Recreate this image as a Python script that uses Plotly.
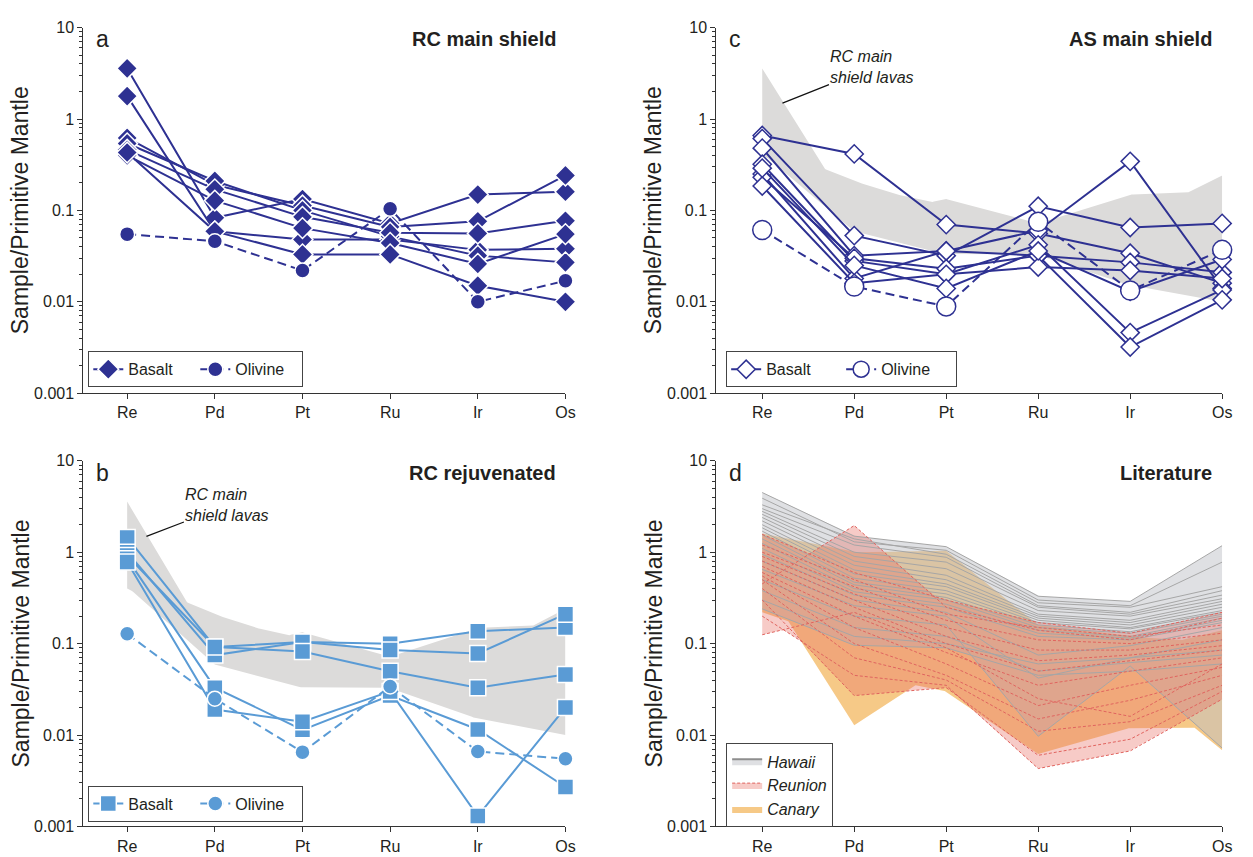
import numpy as np
import plotly.graph_objects as go

# ---------------------------------------------------------------- data
elements = ["Re", "Pd", "Pt", "Ru", "Ir", "Os"]

# Sample / primitive-mantle ratios, one row per sample (Re, Pd, Pt, Ru, Ir, Os)
rc_main_basalt = [
    [3.58, 0.083, 0.133, 0.072, 0.149, 0.160],
    [1.78, 0.059, 0.048, 0.048, 0.037, 0.038],
    [0.62, 0.190, 0.113, 0.066, 0.076, 0.241],
    [0.54, 0.210, 0.100, 0.052, 0.032, 0.027],
    [0.46, 0.170, 0.085, 0.057, 0.056, 0.077],
    [0.40, 0.128, 0.064, 0.044, 0.026, 0.055],
    [0.43, 0.059, 0.033, 0.033, 0.015, 0.010],
]
rc_main_olivine = [0.055, 0.046, 0.022, 0.104, 0.010, 0.017]

rc_rejuv_basalt = [
    [1.45, 0.092, 0.104, 0.100, 0.137, 0.150],
    [1.00, 0.075, 0.104, 0.085, 0.078, 0.210],
    [0.92, 0.092, 0.082, 0.050, 0.033, 0.046],
    [0.85, 0.033, 0.0114, 0.027, 0.0115, 0.0027],
    [0.78, 0.019, 0.014, 0.030, 0.0013, 0.020],
]
rc_rejuv_olivine = [0.128, 0.025, 0.0065, 0.034, 0.0066, 0.0055]

as_main_basalt = [
    [0.66, 0.415, 0.070, 0.056, 0.034, 0.016],
    [0.61, 0.053, 0.032, 0.111, 0.065, 0.072],
    [0.48, 0.032, 0.036, 0.060, 0.344, 0.014],
    [0.32, 0.028, 0.020, 0.042, 0.0046, 0.0135],
    [0.25, 0.018, 0.036, 0.032, 0.0032, 0.0105],
    [0.23, 0.030, 0.023, 0.032, 0.027, 0.021],
    [0.185, 0.016, 0.020, 0.024, 0.022, 0.018],
    [0.29, 0.025, 0.014, 0.036, 0.013, 0.029],
]
as_main_olivine = [0.061, 0.0147, 0.0089, 0.075, 0.0133, 0.037]

hawaii = [
    [4.50, 1.50, 1.15, 0.33, 0.29, 1.18],
    [3.90, 1.30, 1.05, 0.30, 0.26, 0.78],
    [3.30, 1.40, 0.95, 0.28, 0.25, 0.42],
    [3.00, 1.20, 0.88, 0.26, 0.22, 0.38],
    [2.80, 1.00, 0.78, 0.25, 0.21, 0.34],
    [2.60, 0.90, 0.66, 0.23, 0.20, 0.31],
    [2.40, 0.80, 0.56, 0.21, 0.18, 0.29],
    [2.20, 0.72, 0.50, 0.20, 0.17, 0.27],
    [2.00, 0.64, 0.45, 0.19, 0.16, 0.25],
    [1.85, 0.58, 0.42, 0.18, 0.15, 0.23],
    [1.70, 0.52, 0.38, 0.17, 0.145, 0.22],
    [1.55, 0.47, 0.35, 0.16, 0.135, 0.21],
    [1.40, 0.44, 0.32, 0.15, 0.13, 0.20],
    [1.25, 0.40, 0.30, 0.14, 0.12, 0.19],
    [1.10, 0.37, 0.27, 0.13, 0.115, 0.18],
    [0.95, 0.34, 0.25, 0.12, 0.11, 0.17],
    [0.80, 0.30, 0.22, 0.075, 0.095, 0.15],
    [0.65, 0.26, 0.20, 0.042, 0.070, 0.11],
    [0.50, 0.20, 0.16, 0.0097, 0.057, 0.0072],
    [0.38, 0.15, 0.12, 0.050, 0.062, 0.075],
    [0.30, 0.12, 0.10, 0.060, 0.070, 0.085],
    [0.24, 0.096, 0.09, 0.045, 0.050, 0.060],
]

reunion = [
    [1.57, 0.60, 0.30, 0.17, 0.13, 0.22],
    [0.45, 1.96, 0.25, 0.14, 0.11, 0.19],
    [1.20, 0.50, 0.21, 0.15, 0.12, 0.16],
    [1.00, 0.42, 0.18, 0.11, 0.10, 0.13],
    [0.90, 0.35, 0.15, 0.085, 0.085, 0.11],
    [0.80, 0.30, 0.12, 0.065, 0.075, 0.095],
    [0.70, 0.25, 0.10, 0.050, 0.065, 0.085],
    [0.60, 0.20, 0.08, 0.035, 0.050, 0.070],
    [0.55, 0.15, 0.06, 0.021, 0.035, 0.055],
    [0.50, 0.10, 0.045, 0.015, 0.024, 0.045],
    [0.40, 0.07, 0.040, 0.011, 0.014, 0.035],
    [0.30, 0.027, 0.033, 0.006, 0.009, 0.030],
    [0.20, 0.045, 0.035, 0.0043, 0.0067, 0.0247],
    [0.125, 0.22, 0.090, 0.025, 0.016, 0.060],
]

canary = [
    [1.60, 1.00, 1.04, 0.16, 0.12, 0.10],
    [1.20, 0.60, 0.50, 0.10, 0.08, 0.14],
    [0.80, 0.30, 0.20, 0.05, 0.045, 0.0068],
    [0.50, 0.0128, 0.058, 0.02, 0.02, 0.02],
    [0.30, 0.05, 0.03, 0.0062, 0.012, 0.012],
    [0.22, 0.10, 0.07, 0.03, 0.012, 0.03],
]

decade_ticks = [0.001, 0.01, 0.1, 1, 10]
decade_labels = ["0.001", "0.01", "0.1", "1", "10"]

# ---------------------------------------------------------------- style
NAVY = "#2E3192"
SKY = "#5A9BD5"
BAND = "#DCDBDA"
INK = "#231F20"
AXIS = "#333333"
FONT = "Liberation Sans, Arial, Helvetica, sans-serif"
W, H = 1253, 857

HAWAII_FILL = "rgba(188,191,196,0.48)"
HAWAII_LINE = "#A6A6A6"
REUNION_FILL = "rgba(232,112,100,0.36)"
REUNION_LINE = "#E0645F"
CANARY_FILL = "rgba(235,140,0,0.47)"


def px_x(p):
    return p / W


def px_y(p):
    return 1 - p / H


xpos = list(range(len(elements)))

# panel frames in pixels: left, right, top, bottom
panels = {
    "a": dict(ax="", left=84, right=570, top=20, bottom=393),
    "c": dict(ax="2", left=722, right=1232, top=20, bottom=393),
    "b": dict(ax="3", left=84, right=570, top=462, bottom=835),
    "d": dict(ax="4", left=722, right=1232, top=462, bottom=835),
}


def envelope(rows, steps=60):
    """Upper/lower bounds of a set of profiles, following each straight
    (log-space) segment so that crossings of lines are kept."""
    logs = np.log10(np.array(rows, dtype=float))
    xs, hi, lo = [], [], []
    for i in range(len(elements) - 1):
        for t in np.linspace(0, 1, steps, endpoint=False):
            v = logs[:, i] * (1 - t) + logs[:, i + 1] * t
            xs.append(i + t)
            hi.append(v.max())
            lo.append(v.min())
    xs.append(len(elements) - 1)
    hi.append(logs[:, -1].max())
    lo.append(logs[:, -1].min())
    xs = np.array(xs)
    hi = 10 ** np.array(hi)
    lo = 10 ** np.array(lo)
    return np.concatenate([xs, xs[::-1]]), np.concatenate([hi, lo[::-1]])


fig = go.Figure()


def band(rows, ax, fillcolor):
    bx, by = envelope(rows)
    fig.add_trace(go.Scatter(
        x=bx, y=by, mode="lines", fill="toself", fillcolor=fillcolor,
        line=dict(width=0), hoverinfo="skip", showlegend=False,
        xaxis="x" + ax, yaxis="y" + ax,
    ))


def samples(rows, olivine, ax, color, bmark, omark, legend):
    for i, row in enumerate(rows):
        fig.add_trace(go.Scatter(
            x=xpos, y=row, mode="lines+markers", name="Basalt",
            line=dict(color=color, width=2), marker=bmark,
            legendgroup="basalt" + ax, showlegend=(i == 0), legend=legend,
            cliponaxis=False, xaxis="x" + ax, yaxis="y" + ax,
        ))
    fig.add_trace(go.Scatter(
        x=xpos, y=olivine, mode="lines+markers", name="Olivine",
        line=dict(color=color, width=2, dash="9px,5px"), marker=omark,
        legendgroup="olivine" + ax, legend=legend,
        cliponaxis=False, xaxis="x" + ax, yaxis="y" + ax,
    ))


# (a) RC main shield
samples(rc_main_basalt, rc_main_olivine, "",
        NAVY,
        dict(symbol="diamond", size=16, color=NAVY, line=dict(color="white", width=1.5)),
        dict(symbol="circle", size=15, color=NAVY, line=dict(color="white", width=1.5)),
        "legend")

# (c) AS main shield, over the RC main-shield range
band(rc_main_basalt, "2", BAND)
samples(as_main_basalt, as_main_olivine, "2",
        NAVY,
        dict(symbol="diamond", size=14, color="white", line=dict(color=NAVY, width=1.5)),
        dict(symbol="circle", size=19, color="white", line=dict(color=NAVY, width=1.5)),
        "legend2")

# (b) RC rejuvenated, over the RC main-shield range
band(rc_main_basalt, "3", BAND)
samples(rc_rejuv_basalt, rc_rejuv_olivine, "3",
        SKY,
        dict(symbol="square", size=16, color=SKY, line=dict(color="white", width=1.5)),
        dict(symbol="circle", size=15, color=SKY, line=dict(color="white", width=1.5)),
        "legend3")

# (d) literature fields
band(canary, "4", CANARY_FILL)
band(hawaii, "4", HAWAII_FILL)
band(reunion, "4", REUNION_FILL)
for row in hawaii:
    fig.add_trace(go.Scatter(
        x=xpos, y=row, mode="lines", line=dict(color=HAWAII_LINE, width=1),
        hoverinfo="skip", showlegend=False, xaxis="x4", yaxis="y4",
    ))
for row in reunion:
    fig.add_trace(go.Scatter(
        x=xpos, y=row, mode="lines",
        line=dict(color=REUNION_LINE, width=1, dash="3px,2px"),
        hoverinfo="skip", showlegend=False, xaxis="x4", yaxis="y4",
    ))
for name, fc, ln in [
    ("Hawaii", HAWAII_FILL, dict(color="#8E8E8E", width=2)),
    ("Reunion", REUNION_FILL, dict(color=REUNION_LINE, width=1, dash="3px,2px")),
    ("Canary", CANARY_FILL, dict(color="rgba(0,0,0,0)", width=0)),
]:
    fig.add_trace(go.Scatter(
        x=[None], y=[None], mode="lines", fill="toself", fillcolor=fc,
        line=ln, name=name, legend="legend4", xaxis="x4", yaxis="y4",
    ))

# ---------------------------------------------------------------- axes
minor_vals = [m * 10.0 ** e for e in range(-3, 1) for m in range(2, 10)]
layout_axes = {}
for key, p in panels.items():
    ax = p["ax"]
    layout_axes["xaxis" + ax] = dict(
        domain=[px_x(p["left"]), px_x(p["right"])],
        anchor="y" + ax, range=[-0.5, len(elements) - 1],
        tickmode="array", tickvals=xpos, ticktext=elements,
        ticks="outside", ticklen=5, tickwidth=1, tickcolor=AXIS,
        showline=True, linecolor=AXIS, linewidth=1,
        showgrid=False, zeroline=False,
        tickfont=dict(family=FONT, size=16, color=INK),
    )
    layout_axes["yaxis" + ax] = dict(
        domain=[px_y(p["bottom"]), px_y(p["top"])],
        anchor="x" + ax, type="log", range=[-3, 1],
        tickmode="array", tickvals=decade_ticks, ticktext=decade_labels,
        ticks="outside", ticklen=5, tickwidth=1, tickcolor=AXIS,
        minor=dict(tickmode="array", tickvals=minor_vals, ticks="outside",
                   ticklen=3, tickwidth=1, tickcolor=AXIS, showgrid=False),
        showline=True, linecolor=AXIS, linewidth=1,
        showgrid=False, zeroline=False,
        tickfont=dict(family=FONT, size=16, color=INK),
    )

# ---------------------------------------------------------------- text
annotations = []
titles = {"a": "RC main shield", "c": "AS main shield",
          "b": "RC rejuvenated", "d": "Literature"}
for key, p in panels.items():
    top = p["top"]
    annotations.append(dict(
        text=key, x=px_x(p["left"] + 11), y=px_y(top + 12),
        xref="paper", yref="paper", xanchor="left", yanchor="middle",
        showarrow=False, font=dict(family=FONT, size=23, color=INK),
    ))
    annotations.append(dict(
        text="<b>" + titles[key] + "</b>", x=px_x(p["right"] - 8), y=px_y(top + 12),
        xref="paper", yref="paper", xanchor="right", yanchor="middle",
        showarrow=False, font=dict(family=FONT, size=20, color=INK),
    ))
    annotations.append(dict(
        text="Sample/Primitive Mantle", textangle=-90,
        x=px_x(p["left"] - 63), y=px_y((p["top"] + p["bottom"]) / 2),
        xref="paper", yref="paper", xanchor="center", yanchor="middle",
        showarrow=False, font=dict(family=FONT, size=23, color=INK),
    ))

# labels for the RC main-shield field in (b) and (c)
for ax, off_x, off_y in [("3", 81, -31), ("2", 90, -36)]:
    annotations.append(dict(
        text="<i>RC main<br>shield lavas</i>", align="left",
        x=0.22, y=np.log10(1.49), xref="x" + ax, yref="y" + ax,
        showarrow=True, arrowhead=0, arrowwidth=1.2, arrowcolor="#111111",
        ax=off_x, ay=off_y, font=dict(family=FONT, size=16, color=INK),
    ))

legend_common = dict(
    bgcolor="white", bordercolor="#444444", borderwidth=1,
    font=dict(family=FONT, size=16, color=INK),
    xanchor="left", yanchor="bottom", itemsizing="trace",
)

fig.update_layout(
    width=W, height=H,
    margin=dict(l=0, r=0, t=0, b=0),
    paper_bgcolor="white", plot_bgcolor="white",
    font=dict(family=FONT, color=INK),
    annotations=annotations,
    legend=dict(orientation="h", x=px_x(89), y=px_y(387),
                entrywidth=62, **legend_common),
    legend2=dict(orientation="h", x=px_x(732), y=px_y(387),
                 entrywidth=70, **legend_common),
    legend3=dict(orientation="h", x=px_x(89), y=px_y(830),
                 entrywidth=62, **legend_common),
    legend4=dict(orientation="v", x=px_x(732), y=px_y(836),
                 **{k: v for k, v in legend_common.items() if k != "font"},
                 font=dict(family=FONT, size=16, color=INK, style="italic")),
    **layout_axes,
)

fig.write_html("out.html")
